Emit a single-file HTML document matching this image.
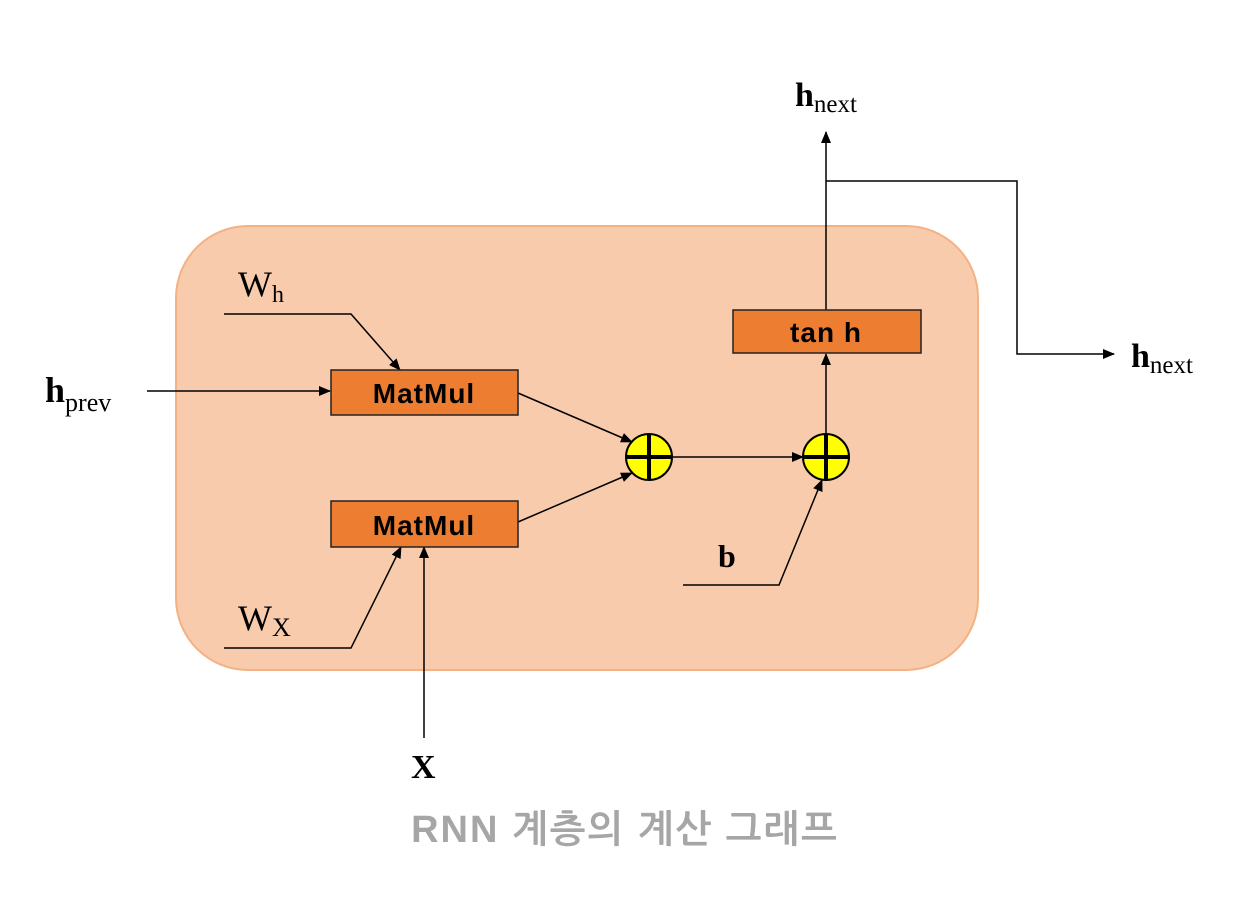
<!DOCTYPE html>
<html><head><meta charset="utf-8">
<style>html,body{margin:0;padding:0;background:#fff;}svg{display:block;}</style>
</head><body>
<svg width="1254" height="917" viewBox="0 0 1254 917" xmlns="http://www.w3.org/2000/svg">
<defs>
<marker id="a" markerWidth="12" markerHeight="10" refX="11" refY="5" orient="auto" markerUnits="userSpaceOnUse">
<path d="M0,0 L12,5 L0,10 z" fill="#000"/>
</marker>
</defs>
<rect x="176" y="226" width="802" height="444" rx="72" ry="72" fill="#f8cbad" stroke="#f4b183" stroke-width="2"/>
<g stroke="#000" stroke-width="1.5" fill="none">
<line x1="147" y1="391" x2="330" y2="391" marker-end="url(#a)"/>
<polyline points="224,314 351,314 400,370" marker-end="url(#a)"/>
<polyline points="224,648 351,648 401,547" marker-end="url(#a)"/>
<line x1="424" y1="738" x2="424" y2="547" marker-end="url(#a)"/>
<line x1="518" y1="393" x2="632" y2="442" marker-end="url(#a)"/>
<line x1="518" y1="522" x2="632" y2="473" marker-end="url(#a)"/>
<line x1="671" y1="457" x2="803" y2="457" marker-end="url(#a)"/>
<polyline points="683,585 779,585 822,480" marker-end="url(#a)"/>
<line x1="826" y1="435" x2="826" y2="354" marker-end="url(#a)"/>
<line x1="826" y1="310" x2="826" y2="132" marker-end="url(#a)"/>
<polyline points="826,181 1017,181 1017,354 1114,354" marker-end="url(#a)"/>
</g>
<rect x="331" y="370" width="187" height="45" fill="#ed7d31" stroke="#222" stroke-width="1.5"/>
<rect x="331" y="501" width="187" height="46" fill="#ed7d31" stroke="#222" stroke-width="1.5"/>
<rect x="733" y="310" width="188" height="43" fill="#ed7d31" stroke="#222" stroke-width="1.5"/>
<g font-family="'Liberation Sans',sans-serif" font-weight="bold" font-size="28" fill="#000" text-anchor="middle" letter-spacing="1">
<text x="424" y="403">MatMul</text>
<text x="424" y="535">MatMul</text>
<text x="826" y="342">tan h</text>
</g>
<g stroke="#000" fill="#ffff00" stroke-width="2">
<circle cx="649" cy="457" r="23"/>
<circle cx="826" cy="457" r="23"/>
</g>
<g stroke="#000" stroke-width="4">
<line x1="627" y1="457" x2="671" y2="457"/><line x1="649" y1="435" x2="649" y2="479"/>
<line x1="804" y1="457" x2="848" y2="457"/><line x1="826" y1="435" x2="826" y2="479"/>
</g>
<g font-family="'Liberation Serif',serif" fill="#000">
<text x="795" y="106" font-size="34" font-weight="bold">h<tspan font-size="25" font-weight="normal" dy="6">next</tspan></text>
<text x="1131" y="367" font-size="34" font-weight="bold">h<tspan font-size="25" font-weight="normal" dy="6">next</tspan></text>
<text x="45" y="402" font-size="36" font-weight="bold">h<tspan font-size="26" font-weight="normal" dy="9">prev</tspan></text>
<text x="238" y="296" font-size="36">W<tspan font-size="24" dy="6">h</tspan></text>
<text x="238" y="630" font-size="36">W<tspan font-size="26" dy="6">X</tspan></text>
<text x="718" y="567" font-size="32" font-weight="bold">b</text>
<text x="411" y="778" font-size="34" font-weight="bold">X</text>
</g>
<text x="625" y="842" text-anchor="middle" font-family="'Liberation Sans','NanumGothic','Noto Sans CJK KR',sans-serif" font-weight="bold" font-size="38" letter-spacing="2" fill="#a6a6a6">RNN 계층의 계산 그래프</text>
</svg>
</body></html>
